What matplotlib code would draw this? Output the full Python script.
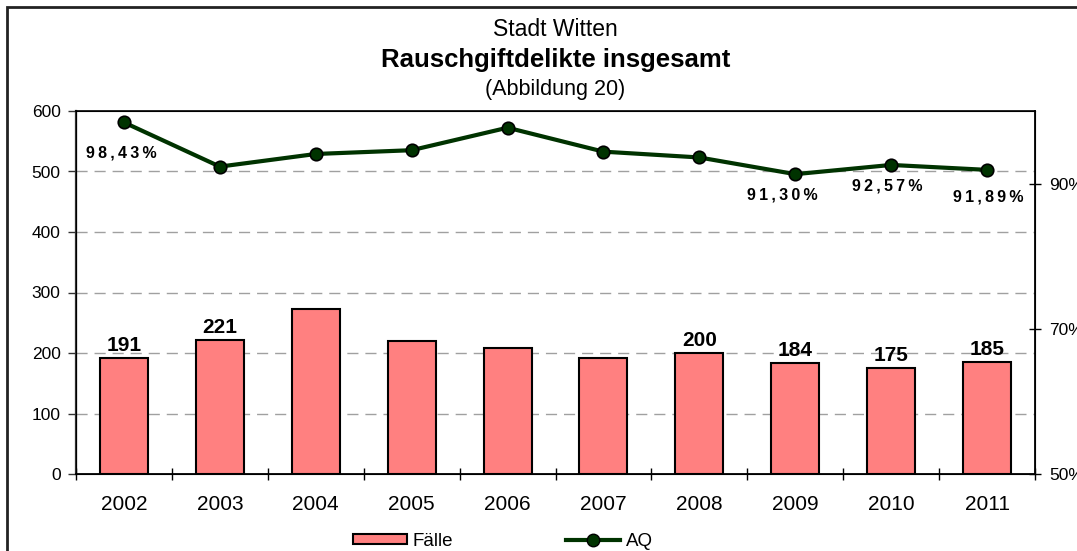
import matplotlib
matplotlib.use("Agg")
import matplotlib.pyplot as plt
from matplotlib.patches import Rectangle
from matplotlib.lines import Line2D
from matplotlib.ticker import FixedLocator, NullFormatter

plt.rcParams['font.family'] = ['Liberation Sans', 'DejaVu Sans']

years = ['2002', '2003', '2004', '2005', '2006', '2007', '2008', '2009', '2010', '2011']
faelle = [191, 221, 272, 220, 208, 192, 200, 184, 175, 185]
aq = [98.43, 92.34, 94.08, 94.6, 97.7, 94.4, 93.6, 91.30, 92.57, 91.89]
# which values get a label in the original
bar_labelled = [True, True, False, False, False, False, True, True, True, True]
aq_labelled = {0: (-3, -31), 7: (-13, -21), 8: (-4, -21), 9: (1, -27)}

bar_col = '#ff8080'
line_col = '#003300'

fig = plt.figure(figsize=(10.77, 5.51), dpi=100)
ax = fig.add_axes([76/1077, 1 - 474/551, (1035-76)/1077, (474-111)/551])
x = list(range(len(years)))

ax.bar(x, faelle, width=0.5, color=bar_col, edgecolor='black', linewidth=1.5, zorder=2)
for i, v in enumerate(faelle):
    if bar_labelled[i]:
        ax.annotate(str(v), (i, v), xytext=(0, 3), textcoords='offset pixels',
                    ha='center', va='bottom', fontsize=15, fontweight='bold')

ax.set_xlim(-0.5, len(years) - 0.5)
ax.set_ylim(0, 600)
ax.set_yticks(range(0, 601, 100))
ax.set_xticks(x)
ax.set_xticklabels(years, fontsize=15)
ax.xaxis.set_minor_locator(FixedLocator([i - 0.5 for i in range(len(years) + 1)]))
ax.xaxis.set_minor_formatter(NullFormatter())
ax.tick_params(axis='x', which='major', length=0, pad=15)
ax.tick_params(axis='x', which='minor', direction='inout', length=9, width=1)
ax.tick_params(axis='y', labelsize=12.5, length=6, width=1, color='#333333', pad=5)
for yv in range(100, 600, 100):
    ax.axhline(yv, color='#a0a0a0', linestyle=(0, (8, 5)), linewidth=1, zorder=1)
ax.spines['left'].set_color('#333333')
ax.spines['left'].set_linewidth(1.6)
ax.spines['bottom'].set_linewidth(1.3)
ax.spines['top'].set_linewidth(1.2)

ax2 = ax.twinx()
ax2.plot(x, aq, color=line_col, linewidth=3, marker='o', markersize=9,
         markerfacecolor=line_col, markeredgecolor='black', markeredgewidth=1.2, zorder=3)
ax2.set_ylim(50, 100)
ax2.set_yticks([50, 70, 90])
ax2.set_yticklabels(['50%', '70%', '90%'], fontsize=12.5)
ax2.tick_params(axis='y', direction='inout', length=8, width=1, pad=6)
ax2.spines['right'].set_linewidth(1.3)
for i, (dx, dy) in aq_labelled.items():
    txt = '\u2009'.join(f'{aq[i]:.2f}'.replace('.', ',') + '%')
    ax2.annotate(txt, (i, aq[i]), xytext=(dx, dy), textcoords='offset pixels',
                 ha='center', va='center', fontsize=11.5, fontweight='bold')

cx = (76 + 1035) / 2 / 1077
fig.text(cx, 1 - 30/551, 'Stadt Witten', ha='center', va='center', fontsize=16.5)
fig.text(cx, 1 - 60/551, 'Rauschgiftdelikte insgesamt', ha='center', va='center',
         fontsize=18.5, fontweight='bold')
fig.text(cx, 1 - 89/551, '(Abbildung 20)', ha='center', va='center', fontsize=15.5)

handles = [Rectangle((0, 0), 1, 1, facecolor=bar_col, edgecolor='black', linewidth=1.5),
           Line2D([], [], color=line_col, linewidth=3, marker='o', markersize=9,
                  markerfacecolor=line_col, markeredgecolor='black')]
fig.legend(handles, ['Fälle', 'AQ'], loc='center', bbox_to_anchor=(503/1077, 1 - 541/551),
           ncol=2, frameon=False, fontsize=13.5, handlelength=2.9, handleheight=0.5,
           columnspacing=6, handletextpad=0.3, borderaxespad=0)

fig.patches.append(Rectangle((7/1077, -0.1), 1.2, (551 - 7)/551 + 0.1, transform=fig.transFigure,
                             fill=False, edgecolor='#222222', linewidth=2))

fig.savefig('out.png', dpi=100)
